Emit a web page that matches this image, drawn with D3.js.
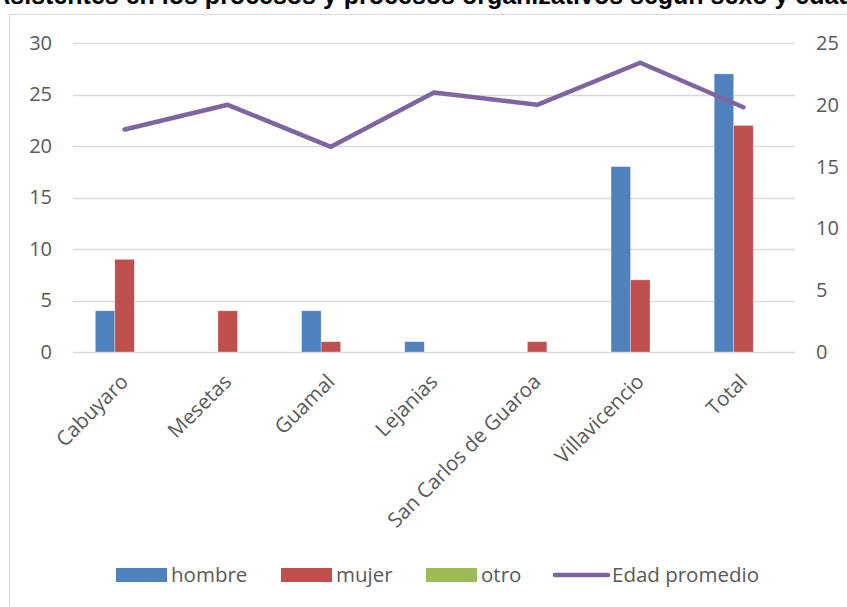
<!DOCTYPE html>
<html>
<head>
<meta charset="utf-8">
<script src="https://cdn.jsdelivr.net/npm/d3@7"></script>
<style>
  body { margin: 0; background: #fff; }
  text { font-family: "Open Sans", sans-serif; }
</style>
</head>
<body>
<div id="chart"></div>
<script>
var WIDTH = 847;
var HEIGHT = 607;

var categories = ["Cabuyaro", "Mesetas", "Guamal", "Lejanias", "San Carlos de Guaroa", "Villavicencio", "Total"];
var hombre = [4, 0, 4, 1, 0, 18, 27];
var mujer = [9, 4, 1, 0, 1, 7, 22];
var otro = [0, 0, 0, 0, 0, 0, 0];
var edadPromedio = [18, 20, 16.6, 21, 20, 23.4, 19.8];
var seriesNames = ["hombre", "mujer", "otro"];
var leftTicks = [0, 5, 10, 15, 20, 25, 30];
var rightTicks = [0, 5, 10, 15, 20, 25];
var titleText = "Asistentes en los procesos y procesos organizativos según sexo y edad";

var colors = {hombre: "#4F81BD", mujer: "#C0504D", otro: "#9BBB59", line: "#8064A2"};
var textColor = "#595959";

var svg = d3.select("#chart").append("svg")
  .attr("width", WIDTH)
  .attr("height", HEIGHT);

// chart frame (runs off the page right and bottom)
svg.append("rect")
  .attr("x", 9.5).attr("y", 14.5)
  .attr("width", 900).attr("height", 700)
  .attr("fill", "none")
  .attr("stroke", "#D9D9D9");

// title, mostly clipped by the top of the page like in the original
svg.append("text")
  .attr("x", 423).attr("y", 4)
  .attr("text-anchor", "middle")
  .style("font-family", "'Liberation Sans', sans-serif")
  .style("font-weight", "bold")
  .style("font-size", "25px")
  .attr("fill", "#000")
  .text(titleText);

var plot = {left: 73, right: 795, top: 43, bottom: 352};

var x = d3.scaleBand().domain(categories).range([plot.left, plot.right]).padding(0);
var groupW = x.bandwidth() * 0.567;
var xs = d3.scaleBand().domain(seriesNames).range([0, groupW]).padding(0);

var y = d3.scaleLinear().domain([0, 30]).range([plot.bottom, plot.top]);
var y2 = d3.scaleLinear().domain([0, 25]).range([plot.bottom, plot.top]);

// gridlines
svg.append("g").selectAll("line")
  .data(leftTicks)
  .join("line")
  .attr("x1", plot.left).attr("x2", plot.right)
  .attr("y1", function(d) { return Math.round(y(d)) + 0.5; })
  .attr("y2", function(d) { return Math.round(y(d)) + 0.5; })
  .attr("stroke", "#D9D9D9")
  .attr("stroke-width", 1.5);

// left axis
svg.append("g")
  .attr("transform", "translate(" + 52 + ",0)")
  .call(d3.axisLeft(y).tickValues(leftTicks).tickSize(0).tickPadding(0))
  .call(function(g) { g.select(".domain").remove(); })
  .selectAll("text")
  .style("font-size", "20px")
  .style("font-family", "'Open Sans', sans-serif")
  .attr("fill", textColor);

// right axis
svg.append("g")
  .attr("transform", "translate(" + 816 + ",0)")
  .call(d3.axisRight(y2).tickValues(rightTicks).tickSize(0).tickPadding(0))
  .call(function(g) { g.select(".domain").remove(); })
  .selectAll("text")
  .style("font-size", "20px")
  .style("font-family", "'Open Sans', sans-serif")
  .attr("fill", textColor);

// bars
var data = categories.map(function(c, i) {
  return {cat: c, hombre: hombre[i], mujer: mujer[i], otro: otro[i]};
});

var groups = svg.append("g").selectAll("g")
  .data(data)
  .join("g")
  .attr("transform", function(d) {
    return "translate(" + (x(d.cat) + (x.bandwidth() - groupW) / 2) + ",0)";
  });

groups.selectAll("rect")
  .data(function(d) { return seriesNames.map(function(s) { return {key: s, value: d[s]}; }); })
  .join("rect")
  .attr("x", function(d) { return xs(d.key); })
  .attr("width", xs.bandwidth())
  .attr("y", function(d) { return y(d.value); })
  .attr("height", function(d) { return y(0) - y(d.value); })
  .attr("fill", function(d) { return colors[d.key]; })
  .attr("stroke", "#fff")
  .attr("stroke-opacity", 0.5)
  .attr("stroke-width", 0.6);

// average age line (right axis)
var line = d3.line()
  .x(function(d, i) { return x(categories[i]) + x.bandwidth() / 2; })
  .y(function(d) { return y2(d); });

svg.append("path")
  .attr("d", line(edadPromedio))
  .attr("fill", "none")
  .attr("stroke", colors.line)
  .attr("stroke-width", 4.5)
  .attr("stroke-linecap", "round")
  .attr("stroke-linejoin", "round");

// category labels
svg.append("g").selectAll("text")
  .data(categories)
  .join("text")
  .attr("transform", function(d) {
    return "translate(" + (x(d) + x.bandwidth() / 2 + 5) + "," + 383 + ") rotate(-45)";
  })
  .attr("text-anchor", "end")
  .style("font-size", "20.5px")
  .attr("fill", textColor)
  .text(function(d) { return d; });

// legend
var legendItems = [
  {name: "hombre", type: "rect", color: colors.hombre, x: 116},
  {name: "mujer", type: "rect", color: colors.mujer, x: 281},
  {name: "otro", type: "rect", color: colors.otro, x: 426},
  {name: "Edad promedio", type: "line", color: colors.line, x: 555}
];

var legend = svg.append("g").selectAll("g")
  .data(legendItems)
  .join("g")
  .attr("transform", function(d) { return "translate(" + d.x + "," + 575 + ")"; });

legend.filter(function(d) { return d.type === "rect"; })
  .append("rect")
  .attr("x", 0).attr("y", -7)
  .attr("width", 51).attr("height", 14)
  .attr("fill", function(d) { return d.color; });

legend.filter(function(d) { return d.type === "line"; })
  .append("line")
  .attr("x1", 0).attr("x2", 53)
  .attr("y1", 0).attr("y2", 0)
  .attr("stroke", function(d) { return d.color; })
  .attr("stroke-width", 4.5)
  .attr("stroke-linecap", "round");

legend.append("text")
  .attr("x", function(d) { return d.type === "line" ? 57 : 55; })
  .attr("y", 0)
  .attr("dy", "0.35em")
  .style("font-size", "20.5px")
  .attr("fill", textColor)
  .text(function(d) { return d.name; });
</script>
</body>
</html>
